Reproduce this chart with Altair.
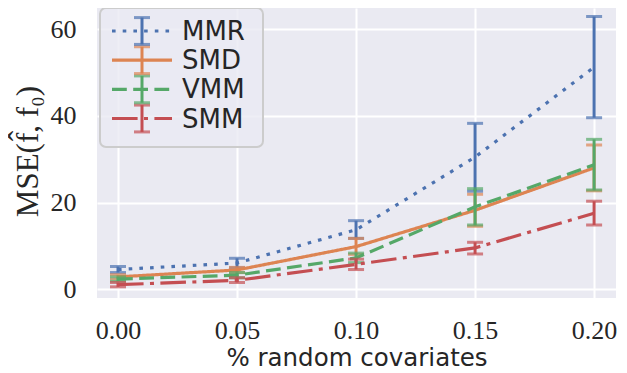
import altair as alt
import pandas as pd

# ---- data ----
series = ["MMR", "SMD", "VMM", "SMM"]
colors = ["#4C72B0", "#DD8452", "#55A868", "#C44E52"]
dashes = [[3.6, 7.1], [1, 0], [14.8, 6.4], [25.6, 6.4, 4, 6.4]]

x_vals = [0.00, 0.05, 0.10, 0.15, 0.20]

mmr_mean = [4.5, 6.0, 13.7, 30.5, 51.3]
mmr_lo = [3.8, 4.9, 11.7, 22.6, 39.6]
mmr_hi = [5.2, 7.1, 15.8, 38.3, 63.0]

smd_mean = [2.8, 4.4, 9.8, 18.2, 28.0]
smd_lo = [2.3, 3.8, 8.0, 14.5, 22.7]
smd_hi = [3.3, 5.0, 11.7, 21.9, 33.3]

vmm_mean = [2.3, 3.2, 7.2, 19.0, 28.7]
vmm_lo = [1.8, 2.6, 6.1, 14.8, 22.9]
vmm_hi = [2.8, 3.8, 8.3, 23.2, 34.6]

smm_mean = [1.0, 2.0, 5.7, 9.5, 17.5]
smm_lo = [0.5, 1.5, 4.5, 8.1, 14.8]
smm_hi = [1.5, 2.6, 6.9, 10.8, 20.3]

y_ticks = [0, 20, 40, 60]

values = {
    "MMR": (mmr_mean, mmr_lo, mmr_hi),
    "SMD": (smd_mean, smd_lo, smd_hi),
    "VMM": (vmm_mean, vmm_lo, vmm_hi),
    "SMM": (smm_mean, smm_lo, smm_hi),
}
rows = []
for s in series:
    m, lo, hi = values[s]
    for i, xv in enumerate(x_vals):
        rows.append({"series": s, "x": xv, "mean": m[i], "lo": lo[i], "hi": hi[i]})
df = pd.DataFrame(rows)

legend_df = pd.DataFrame({"series": series, "row": list(range(len(series)))})

# ---- scales / axes ----
TXT = "#262626"
xs = alt.Scale(domain=[-0.00882, 0.2092], nice=False, zero=False)
ys = alt.Scale(domain=[-2.08, 64.97], nice=False, zero=False)
cs = alt.Scale(domain=series, range=colors)
ds = alt.Scale(domain=series, range=dashes)

xaxis = alt.Axis(values=x_vals, format=".2f", title="% random covariates",
                 labelFont="Liberation Serif", labelFontSize=26, labelColor=TXT,
                 labelPadding=19, ticks=False, tickSize=0, domain=False,
                 grid=True, gridColor="white", gridWidth=2, labelFlush=False,
                 labelOverlap=False,
                 titleFont="DejaVu Sans", titleFontSize=24.5, titleFontWeight="normal",
                 titleColor=TXT, titleBaseline="alphabetic", titleY=67)
yaxis = alt.Axis(values=y_ticks, format="d", title="MSE(f\u0302, f\u2080)",
                 labelFont="Liberation Serif", labelFontSize=26, labelColor=TXT,
                 labelPadding=21, ticks=False, tickSize=0, domain=False,
                 grid=True, gridColor="white", gridWidth=2, labelOverlap=False,
                 titleFont="Liberation Serif", titleFontSize=31, titleFontWeight="normal",
                 titleColor=TXT, titleBaseline="alphabetic", titleAngle=270,
                 titleAlign="center", titleX=-60, titleY=143)

X = alt.X("x:Q", scale=xs, axis=xaxis)


def Y(field):
    return alt.Y(field, scale=ys, axis=yaxis)


color = alt.Color("series:N", scale=cs, legend=None)
dash = alt.StrokeDash("series:N", scale=ds, legend=None)

main_layers = []
for s in series:
    base = alt.Chart(df).transform_filter(alt.datum.series == s)
    main_layers.append(base.mark_line(strokeWidth=3.2).encode(x=X, y=Y("mean:Q"), color=color, strokeDash=dash))
    main_layers.append(base.mark_rule(strokeWidth=3).encode(x=X, y=Y("lo:Q"), y2="hi:Q", color=color))
    main_layers.append(base.mark_tick(orient="horizontal", size=16, thickness=3).encode(x=X, y=Y("lo:Q"), color=color))
    main_layers.append(base.mark_tick(orient="horizontal", size=16, thickness=3).encode(x=X, y=Y("hi:Q"), color=color))
main = alt.layer(*main_layers)

# ---- legend drawn in the plot ----
ly = alt.Scale(domain=[0, 3], range=[23, 110.5], nice=False, zero=False)
lbase = alt.Chart(legend_df).transform_calculate(top="datum.row - 0.46", bot="datum.row + 0.46")
frame = alt.Chart(pd.DataFrame({"k": [0]})).mark_rect(
    fill="#EAEAF2", fillOpacity=0.8, stroke="#CCCCCC", strokeWidth=2, cornerRadius=6
).encode(x=alt.value(3), x2=alt.value(166), y=alt.value(0), y2=alt.value(139))
leg_line = lbase.mark_rule(strokeWidth=3.2).encode(
    x=alt.value(15), x2=alt.value(75), y=alt.Y("row:Q", scale=ly, axis=None), color=color, strokeDash=dash)
leg_bar = lbase.mark_rule(strokeWidth=3).encode(
    x=alt.value(45), y=alt.Y("top:Q", scale=ly, axis=None), y2="bot:Q", color=color)
leg_cap1 = lbase.mark_tick(orient="horizontal", size=16, thickness=3).encode(
    x=alt.value(45), y=alt.Y("top:Q", scale=ly, axis=None), color=color)
leg_cap2 = lbase.mark_tick(orient="horizontal", size=16, thickness=3).encode(
    x=alt.value(45), y=alt.Y("bot:Q", scale=ly, axis=None), color=color)
leg_text = lbase.mark_text(align="left", baseline="middle", font="DejaVu Sans", fontSize=26,
                           color=TXT, dy=1).encode(
    x=alt.value(85), y=alt.Y("row:Q", scale=ly, axis=None), text="series:N")
legend = alt.layer(frame, leg_line, leg_bar, leg_cap1, leg_cap2, leg_text)

chart = alt.layer(main, legend).resolve_scale(y="independent").properties(
    width=519, height=290,
    autosize=alt.AutoSizeParams(type="none"),
    padding={"left": 89, "top": 0, "right": 3, "bottom": 76},
    background="white",
).configure_view(fill="#EAEAF2", stroke=None)

chart.save("out.html", embed_options={"renderer": "svg", "actions": False})
